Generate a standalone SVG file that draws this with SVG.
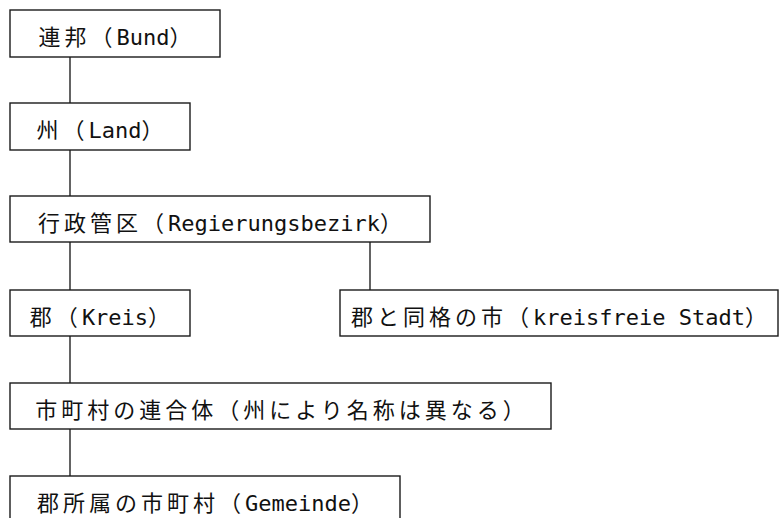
<svg xmlns="http://www.w3.org/2000/svg" width="779" height="518" viewBox="0 0 779 518">
<style>
.box{fill:#fff;stroke:#1a1a1a;stroke-width:1.4}
.lbl{font-family:"Noto Sans CJK JP","Noto Sans CJK SC",sans-serif;font-size:22px;letter-spacing:4px;fill:#111;text-anchor:middle}
.lat{font-family:"DejaVu Sans Mono","Liberation Mono",monospace;letter-spacing:0px}
.con{stroke:#222;stroke-width:1.4;fill:none}
</style>
<rect width="779" height="518" fill="#fff"/>
<g id="connectors">
<line class="con" x1="70" y1="57" x2="70" y2="103"/>
<line class="con" x1="70" y1="150" x2="70" y2="196"/>
<line class="con" x1="70" y1="242" x2="70" y2="290"/>
<line class="con" x1="370" y1="242" x2="370" y2="290"/>
<line class="con" x1="70" y1="336" x2="70" y2="383"/>
<line class="con" x1="70" y1="429" x2="70" y2="476"/>
</g>
<g id="bund"><rect class="box" x="10" y="10" width="210" height="47"/><text class="lbl" x="117" y="45">連邦（<tspan class="lat">Bund</tspan>）</text></g>
<g id="land"><rect class="box" x="10" y="103" width="180" height="47"/><text class="lbl" x="102" y="138">州（<tspan class="lat">Land</tspan>）</text></g>
<g id="regierungsbezirk"><rect class="box" x="10" y="196" width="420" height="46"/><text class="lbl" x="222" y="231">行政管区（<tspan class="lat">Regierungsbezirk</tspan>）</text></g>
<g id="kreis"><rect class="box" x="10" y="290" width="180" height="46"/><text class="lbl" x="102" y="325">郡（<tspan class="lat">Kreis</tspan>）</text></g>
<g id="kreisfreie"><rect class="box" x="340" y="290" width="438" height="46"/><text class="lbl" x="561" y="325">郡と同格の市（<tspan class="lat">kreisfreie Stadt</tspan>）</text></g>
<g id="verband"><rect class="box" x="10" y="383" width="541" height="46"/><text class="lbl" x="282" y="418">市町村の連合体（州により名称は異なる）</text></g>
<g id="gemeinde"><rect class="box" x="10" y="476" width="390" height="50"/><text class="lbl" x="207" y="511">郡所属の市町村（<tspan class="lat">Gemeinde</tspan>）</text></g>
</svg>
